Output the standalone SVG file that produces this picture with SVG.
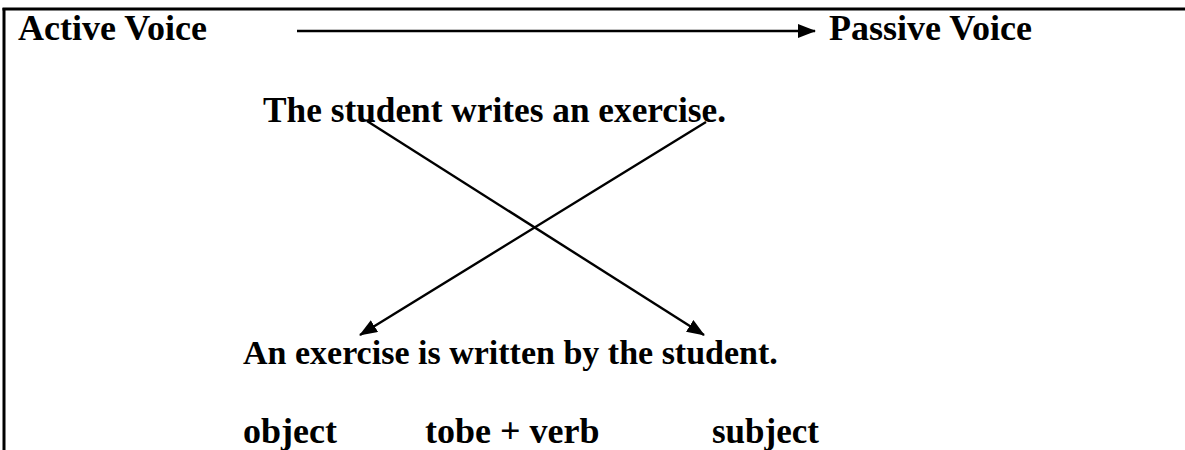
<svg xmlns="http://www.w3.org/2000/svg" width="1185" height="450" viewBox="0 0 1185 450">
<style>
.t{font-family:"Liberation Serif","Times New Roman",serif;font-weight:bold;font-size:36px;fill:#000}
.ln{stroke:#000;stroke-width:2.4;fill:none}
</style>
<defs>
<marker id="ah" viewBox="0 0 18 14" refX="17" refY="7" markerWidth="18" markerHeight="14" markerUnits="userSpaceOnUse" orient="auto">
<path d="M0,0 L18,7 L0,14 Z" fill="#000"/>
</marker>
</defs>
<rect width="1185" height="450" fill="#fff"/>
<g id="frame">
<line x1="2.5" y1="9" x2="1185" y2="9" stroke="#000" stroke-width="3"/>
<line x1="4" y1="8" x2="4" y2="450" stroke="#000" stroke-width="3"/>
</g>
<g id="active"><text class="t" x="18" y="40">Active Voice</text></g>
<g id="passive"><text class="t" x="829" y="40">Passive Voice</text></g>
<g id="sentence1"><text class="t" x="263" y="122" style="font-size:35.3px">The student writes an exercise.</text></g>
<g id="sentence2"><text class="t" x="243" y="364" style="font-size:34px">An exercise is written by the student.</text></g>
<g id="object"><text class="t" x="243" y="443">object</text></g>
<g id="tobe"><text class="t" x="425" y="443">tobe + verb</text></g>
<g id="subject"><text class="t" x="712" y="443" style="font-size:35px">subject</text></g>
<g id="connectors">
<line class="ln" x1="297" y1="31" x2="815" y2="31" marker-end="url(#ah)"/>
<line class="ln" x1="367" y1="121" x2="704" y2="335" marker-end="url(#ah)"/>
<line class="ln" x1="706" y1="122" x2="360" y2="335" marker-end="url(#ah)"/>
</g>
</svg>
